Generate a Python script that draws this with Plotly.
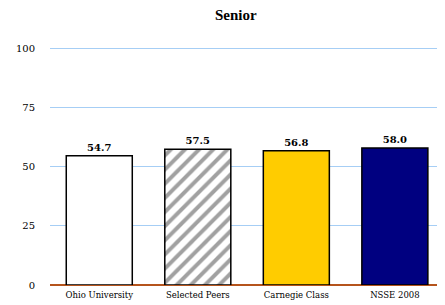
import plotly.graph_objects as go

categories = ["Ohio University", "Selected Peers", "Carnegie Class", "NSSE 2008"]
values = [54.7, 57.5, 56.8, 58.0]
fill_colors = ["#FFFFFF", "#FFFFFF", "#FFCC00", "#000080"]
patterns = ["", "/", "", ""]
y_ticks = [0, 25, 50, 75, 100]

fig = go.Figure()
fig.add_trace(go.Bar(
    x=categories,
    y=values,
    width=0.67,
    marker=dict(
        color=fill_colors,
        line=dict(color="#000000", width=1.5),
        pattern=dict(shape=patterns, fgcolor="#999999", bgcolor="#FFFFFF", size=10, solidity=0.4),
    ),
    text=[f"{v:.1f}" for v in values],
    textposition="outside",
    textfont=dict(family="DejaVu Serif", size=10, color="#000000"),
    texttemplate="<b>%{text}</b>",
    cliponaxis=False,
))

fig.update_layout(
    width=445, height=297,
    margin=dict(l=42, r=0, t=36, b=20),
    paper_bgcolor="#FFFFFF", plot_bgcolor="#FFFFFF",
    showlegend=False,
    title=dict(text="<b>Senior</b>", x=0.512, xanchor="center", y=0.977, yanchor="middle",
               font=dict(family="Liberation Serif", size=15, color="#000000")),
    font=dict(family="Liberation Serif", color="#000000"),
)
fig.update_xaxes(range=[-0.5, 3.59], showgrid=False, showline=False, ticks="",
                 ticklabelstandoff=3,
                 tickfont=dict(family="DejaVu Serif", size=8.5, color="#000000"))
fig.update_yaxes(range=[0, 102], tickvals=y_ticks, showgrid=True, gridcolor="#A6CEF5", gridwidth=1,
                 zeroline=True, zerolinecolor="#B5541C", zerolinewidth=2,
                 showline=False, ticks="", ticklabelstandoff=14,
                 tickfont=dict(family="DejaVu Serif", size=10, color="#000000"))

fig.write_html("out.html")
